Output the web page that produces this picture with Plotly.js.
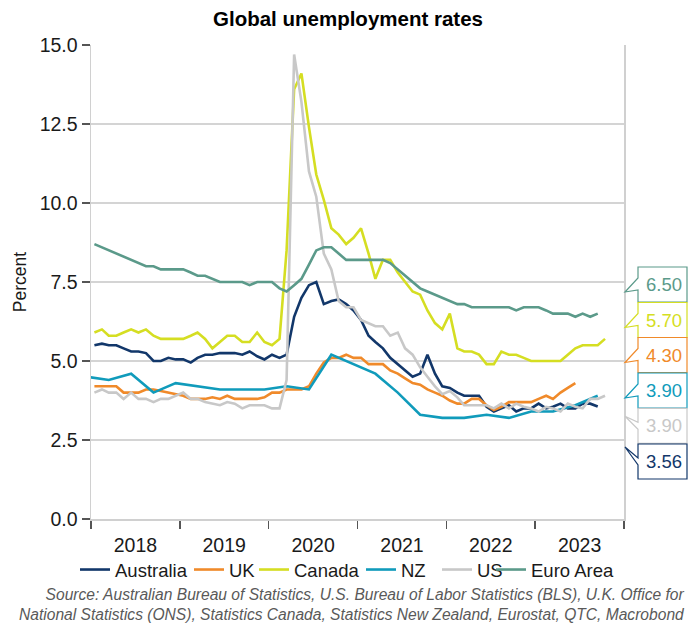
<!DOCTYPE html>
<html>
<head>
<meta charset="utf-8">
<script src="https://cdn.plot.ly/plotly-3.0.1.min.js"></script>
<style>
  html, body { margin: 0; padding: 0; background: #ffffff; }
  #chart { width: 696px; height: 626px; }
</style>
</head>
<body>
<div id="chart"></div>
<script>
// ---------- Data ----------
const startMonth = '2018-01';

const australia = [5.5, 5.55, 5.5, 5.5, 5.4, 5.3, 5.3, 5.25, 5.0, 5.0, 5.1, 5.05,
  5.05, 4.95, 5.1, 5.2, 5.2, 5.25, 5.25, 5.25, 5.2, 5.3, 5.15, 5.05,
  5.2, 5.1, 5.2, 6.4, 7.0, 7.4, 7.5, 6.8, 6.9, 6.95, 6.8, 6.6,
  6.3, 5.8, 5.6, 5.4, 5.1, 4.9, 4.7, 4.5, 4.6, 5.2, 4.6, 4.2,
  4.15, 4.0, 3.9, 3.9, 3.9, 3.55, 3.4, 3.5, 3.6, 3.4, 3.5, 3.5,
  3.65, 3.5, 3.55, 3.65, 3.5, 3.5, 3.65, 3.65, 3.56];

const uk = [4.2, 4.2, 4.2, 4.2, 4.0, 4.0, 4.0, 4.1, 4.1, 4.05, 4.0, 3.95,
  3.9, 3.8, 3.8, 3.8, 3.85, 3.8, 3.9, 3.8, 3.8, 3.8, 3.8, 3.85,
  4.0, 4.0, 4.1, 4.1, 4.1, 4.2, 4.6, 4.95, 5.1, 5.1, 5.2, 5.1,
  5.1, 4.9, 4.9, 4.9, 4.7, 4.6, 4.45, 4.3, 4.25, 4.1, 4.0, 3.9,
  3.75, 3.65, 3.65, 3.8, 3.8, 3.6, 3.45, 3.55, 3.7, 3.7, 3.7, 3.7,
  3.8, 3.9, 3.8, 4.0, 4.15, 4.3];

const canada = [5.9, 6.0, 5.8, 5.8, 5.9, 6.0, 5.9, 6.0, 5.8, 5.7, 5.7, 5.7,
  5.7, 5.8, 5.9, 5.7, 5.4, 5.6, 5.8, 5.8, 5.6, 5.6, 5.9, 5.6,
  5.5, 5.7, 8.5, 13.6, 14.1, 12.4, 10.9, 10.1, 9.2, 9.0, 8.7, 8.9,
  9.2, 8.4, 7.6, 8.2, 8.2, 7.8, 7.5, 7.2, 7.1, 6.6, 6.2, 6.0,
  6.5, 5.4, 5.3, 5.3, 5.2, 4.9, 4.9, 5.3, 5.2, 5.2, 5.1, 5.0,
  5.0, 5.0, 5.0, 5.0, 5.2, 5.4, 5.5, 5.5, 5.5, 5.7];

const nzQuarters = ['2017-12-15', '2018-03-15', '2018-06-15', '2018-09-15', '2018-12-15',
  '2019-03-15', '2019-06-15', '2019-09-15', '2019-12-15',
  '2020-03-15', '2020-06-15', '2020-09-15', '2020-12-15',
  '2021-03-15', '2021-06-15', '2021-09-15', '2021-12-15',
  '2022-03-15', '2022-06-15', '2022-09-15', '2022-12-15',
  '2023-03-15', '2023-06-15', '2023-09-15'];
const nz = [4.5, 4.4, 4.6, 4.0, 4.3, 4.2, 4.1, 4.1, 4.1, 4.2, 4.1, 5.2, 4.9,
  4.6, 4.0, 3.3, 3.2, 3.2, 3.3, 3.2, 3.4, 3.4, 3.6, 3.9];

const us = [4.0, 4.1, 4.0, 4.0, 3.8, 4.0, 3.8, 3.8, 3.7, 3.8, 3.8, 3.9,
  4.0, 3.8, 3.8, 3.7, 3.65, 3.6, 3.7, 3.65, 3.5, 3.6, 3.6, 3.6,
  3.5, 3.5, 4.4, 14.7, 13.2, 11.0, 10.2, 8.4, 7.9, 6.9, 6.7, 6.7,
  6.3, 6.2, 6.1, 6.1, 5.8, 5.9, 5.4, 5.2, 4.8, 4.5, 4.2, 3.95,
  4.05, 3.85, 3.6, 3.6, 3.6, 3.6, 3.5, 3.65, 3.5, 3.65, 3.55, 3.5,
  3.4, 3.55, 3.5, 3.4, 3.65, 3.55, 3.5, 3.8, 3.8, 3.9];

const euroArea = [8.7, 8.6, 8.5, 8.4, 8.3, 8.2, 8.1, 8.0, 8.0, 7.9, 7.9, 7.9,
  7.9, 7.8, 7.7, 7.7, 7.6, 7.5, 7.5, 7.5, 7.5, 7.4, 7.5, 7.5,
  7.5, 7.3, 7.2, 7.4, 7.6, 8.05, 8.5, 8.6, 8.6, 8.4, 8.2, 8.2,
  8.2, 8.2, 8.2, 8.2, 8.1, 7.9, 7.7, 7.5, 7.3, 7.2, 7.1, 7.0,
  6.9, 6.8, 6.8, 6.7, 6.7, 6.7, 6.7, 6.7, 6.7, 6.6, 6.7, 6.7,
  6.7, 6.6, 6.5, 6.5, 6.5, 6.4, 6.5, 6.4, 6.5];

const seriesNames = ['Australia', 'UK', 'Canada', 'NZ', 'US', 'Euro Area'];
const yTickVals = [0, 2.5, 5, 7.5, 10, 12.5, 15];
const sourceLines = [
  'Source: Australian Bureau of Statistics, U.S. Bureau of Labor Statistics (BLS), U.K. Office for',
  'National Statistics (ONS), Statistics Canada, Statistics New Zealand, Eurostat, QTC, Macrobond'
];

// ---------- Helpers ----------
function monthDates(start, n) {
  const [y0, m0] = start.split('-').map(Number);
  const out = [];
  for (let i = 0; i < n; i++) {
    const t = (m0 - 1) + i;
    const y = y0 + Math.floor(t / 12);
    const m = (t % 12) + 1;
    out.push(y + '-' + String(m).padStart(2, '0') + '-15');
  }
  return out;
}

const FONT = 'Liberation Sans, Arial, sans-serif';
const colors = {
  'Australia': '#12376a',
  'UK': '#f08a2a',
  'Canada': '#d5de22',
  'NZ': '#109bbb',
  'US': '#c8c8c8',
  'Euro Area': '#5b9a8a'
};

const seriesData = {
  'Australia': { x: monthDates(startMonth, australia.length), y: australia },
  'UK': { x: monthDates(startMonth, uk.length), y: uk },
  'Canada': { x: monthDates(startMonth, canada.length), y: canada },
  'NZ': { x: nzQuarters, y: nz },
  'US': { x: monthDates(startMonth, us.length), y: us },
  'Euro Area': { x: monthDates(startMonth, euroArea.length), y: euroArea }
};

// ---------- Layout geometry ----------
const W = 696, H = 626;
const M = { l: 91, r: 72, t: 45, b: 107, autoexpand: false };
const PW = W - M.l - M.r, PH = H - M.t - M.b;
const px = x => (x - M.l) / PW;
const py = y => (H - M.b - y) / PH;

// one small legend per series, so that each entry sits where the reference puts it
const legendTextStart = [115, 229, 294, 401, 477, 531];
const legendKeys = seriesNames.map((_, i) => i === 0 ? 'legend' : 'legend' + (i + 1));

const traces = seriesNames.map((name, i) => ({
  type: 'scatter',
  mode: 'lines',
  name: name,
  legend: legendKeys[i],
  x: seriesData[name].x,
  y: seriesData[name].y,
  line: { color: colors[name], width: 2.6 },
  hoverinfo: 'skip'
}));

// Callout bubbles at the right (ordered top to bottom)
const calloutOrder = ['Euro Area', 'Canada', 'UK', 'NZ', 'US', 'Australia'];
const calloutTops = [267, 302.5, 337.5, 373, 408.3, 444];
const calloutTailUp = [false, false, false, false, true, true];
const boxL = 638, boxR = 687, boxH = 35, tipX = 625;

const shapes = [];
const annotations = [];
calloutOrder.forEach((name, i) => {
  const T = calloutTops[i], B = T + boxH;
  const tipY = calloutTailUp[i] ? (i === 5 ? T + 3 : T + 8) : T + 25;
  const b1 = calloutTailUp[i] ? T + 14 : T + 11;
  const b2 = calloutTailUp[i] ? T + 21 : T + 23;
  const pts = [[boxL, T], [boxR, T], [boxR, B], [boxL, B], [boxL, b2], [tipX, tipY], [boxL, b1]];
  const path = 'M ' + pts.map(p => px(p[0]).toFixed(5) + ',' + py(p[1]).toFixed(5)).join(' L ') + ' Z';
  shapes.push({
    type: 'path', xref: 'paper', yref: 'paper', path: path,
    fillcolor: '#ffffff', line: { color: colors[name], width: 1.2 }, layer: 'above'
  });
  const vals = seriesData[name].y;
  annotations.push({
    xref: 'paper', yref: 'paper', x: px((boxL + boxR) / 2 + 1), y: py(T + boxH / 2),
    xanchor: 'center', yanchor: 'middle', showarrow: false,
    text: vals[vals.length - 1].toFixed(2),
    font: { family: FONT, size: 18.5, color: colors[name] }
  });
});

annotations.push({
  xref: 'paper', yref: 'paper', x: px(687), y: py(625),
  xanchor: 'right', yanchor: 'bottom', align: 'right', showarrow: false,
  text: '<i>' + sourceLines.join('<br>') + '</i>',
  font: { family: FONT, size: 15.6, color: '#595959' }
});

const layout = {
  width: W, height: H,
  margin: M,
  paper_bgcolor: '#ffffff',
  plot_bgcolor: '#ffffff',
  font: { family: FONT, size: 18, color: '#1a1a1a' },
  title: {
    text: '<b>Global unemployment rates</b>',
    font: { family: FONT, size: 20.5, color: '#000000' },
    x: 0.5, xref: 'container', xanchor: 'center',
    y: 1 - 19 / H, yref: 'container', yanchor: 'middle'
  },
  showlegend: true,
  xaxis: {
    type: 'date',
    range: ['2018-01-01', '2024-01-01'],
    tick0: '2018-01-01', dtick: 'M12',
    tickformat: '%Y', ticklabelmode: 'period',
    ticks: 'outside', ticklen: 8, tickwidth: 1.5, tickcolor: '#555555',
    showgrid: false, zeroline: false,
    showline: true, linecolor: '#d0d0d0', linewidth: 1.5,
    tickfont: { family: FONT, size: 19.5, color: '#1a1a1a' },
    fixedrange: true
  },
  yaxis: {
    range: [0, 15],
    tickvals: yTickVals,
    ticktext: yTickVals.map(v => v.toFixed(1)),
    ticks: 'outside', ticklen: 8, tickwidth: 1.5, tickcolor: '#555555',
    showgrid: true, gridcolor: '#d4d4d4', gridwidth: 1.2,
    zeroline: false,
    showline: true, linecolor: '#d0d0d0', linewidth: 1.5, mirror: true,
    tickfont: { family: FONT, size: 19.5, color: '#1a1a1a' },
    title: { text: 'Percent', font: { family: FONT, size: 17.5, color: '#1a1a1a' }, standoff: 8 },
    fixedrange: true
  },
  shapes: shapes,
  annotations: annotations
};

legendKeys.forEach((key, i) => {
  layout[key] = {
    orientation: 'h',
    xref: 'container', yref: 'container',
    x: (legendTextStart[i] - 40) / W, xanchor: 'left',
    y: 1 - 570 / H, yanchor: 'middle',
    font: { family: FONT, size: 18.5, color: '#1a1a1a' },
    itemwidth: 30, borderwidth: 0, bgcolor: 'rgba(0,0,0,0)'
  };
});

Plotly.newPlot('chart', traces, layout, { displayModeBar: false, staticPlot: true });
</script>
</body>
</html>
